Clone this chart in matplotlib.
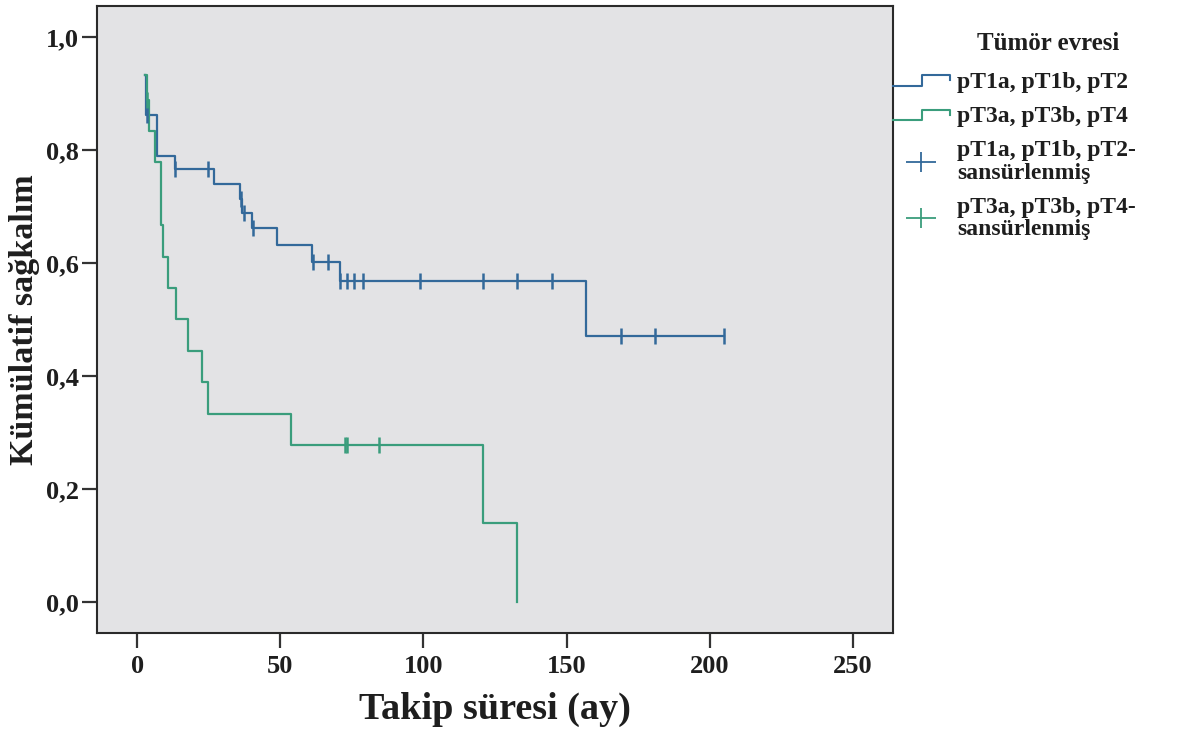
import matplotlib
matplotlib.use("Agg")
import matplotlib.pyplot as plt
from matplotlib.lines import Line2D
from matplotlib.legend_handler import HandlerBase
from matplotlib.path import Path
from matplotlib.markers import MarkerStyle

# ---- data ----
blue_times = [2.8, 3.1, 7.0, 13.3, 26.9, 35.8, 36.6, 40.0, 48.9, 61.1, 70.9, 156.8, 205.0]
blue_surv = [0.933, 0.862, 0.789, 0.766, 0.740, 0.714, 0.688, 0.662, 0.632, 0.602, 0.568, 0.471, 0.471]
blue_cens_t = [3.5, 13.3, 24.8, 36.3, 37.2, 40.5, 61.5, 66.7, 70.9, 73.3, 75.8, 78.9, 98.8, 120.8, 132.7, 144.9, 169.0, 180.9, 205.0]
blue_cens_s = [0.862, 0.766, 0.766, 0.714, 0.688, 0.662, 0.602, 0.602, 0.568, 0.568, 0.568, 0.568, 0.568, 0.568, 0.568, 0.568, 0.471, 0.471, 0.471]

green_times = [2.9, 3.3, 4.0, 6.3, 8.4, 9.1, 10.8, 13.6, 17.8, 22.7, 24.8, 53.8, 120.8, 132.7]
green_surv = [0.933, 0.889, 0.833, 0.778, 0.667, 0.611, 0.556, 0.500, 0.444, 0.389, 0.333, 0.278, 0.139, 0.0]
green_cens_t = [3.6, 72.6, 73.4, 84.5]
green_cens_s = [0.889, 0.278, 0.278, 0.278]

x_ticks = [0, 50, 100, 150, 200, 250]
y_ticks = [0.0, 0.2, 0.4, 0.6, 0.8, 1.0]
y_ticklabels = ["0,0", "0,2", "0,4", "0,6", "0,8", "1,0"]

legend_title = "Tümör evresi"
labels = ["pT1a, pT1b, pT2", "pT3a, pT3b, pT4",
          "pT1a, pT1b, pT2-\nsansürlenmiş", "pT3a, pT3b, pT4-\nsansürlenmiş"]
xlabel = "Takip süresi (ay)"
ylabel = "Kümülatif sağkalım"

BLUE = "#33699a"
GREEN = "#3a9d7c"
TXT = "#1e1e1e"
FONT = ["Liberation Serif", "DejaVu Serif"]

plt.rcParams["font.family"] = FONT
plt.rcParams["font.weight"] = "bold"

W, H = 1181, 735
fig = plt.figure(figsize=(W / 100, H / 100), dpi=100)
ax = fig.add_axes([97 / W, 1 - 633 / H, (893 - 97) / W, (633 - 6) / H])
ax.set_facecolor("#e3e3e5")

ax.step(blue_times, blue_surv, where="post", color=BLUE, lw=1.6)
ax.step(green_times, green_surv, where="post", color=GREEN, lw=1.6)
ax.plot(blue_cens_t, blue_cens_s, ls="none", marker="|", ms=11, mew=1.8, color=BLUE)
ax.plot(green_cens_t, green_cens_s, ls="none", marker="|", ms=11, mew=1.8, color=GREEN)

ax.set_xlim(-14.0, 264.0)
ax.set_ylim(-0.055, 1.055)
ax.set_xticks(x_ticks)
ax.set_yticks(y_ticks)
ax.set_yticklabels(y_ticklabels)
ax.tick_params(axis="both", direction="out", length=11, width=1.6, colors="#333333",
               labelsize=19, labelcolor=TXT, pad=2)
ax.tick_params(axis="x", pad=5)
for lab in ax.get_xticklabels() + ax.get_yticklabels():
    lab.set_fontweight("bold")
for sp in ax.spines.values():
    sp.set_color("#2a2a2a")
    sp.set_linewidth(1.5)

ax.set_xlabel(xlabel, fontsize=27.5, fontweight="bold", color=TXT, labelpad=10)
ax.set_ylabel(ylabel, fontsize=24.5, fontweight="bold", color=TXT, labelpad=4)


class StepHandler(HandlerBase):
    def create_artists(self, legend, orig_handle, xdescent, ydescent,
                       width, height, fontsize, trans):
        x0 = -xdescent
        y0 = -ydescent
        xs = [x0, x0 + 0.52 * width, x0 + 0.52 * width, x0 + width, x0 + width]
        ys = [y0 + 0.1 * height, y0 + 0.1 * height, y0 + 0.75 * height,
              y0 + 0.75 * height, y0 + 0.45 * height]
        ln = Line2D(xs, ys, color=orig_handle.get_color(),
                    lw=orig_handle.get_linewidth(), transform=trans)
        return [ln]


wide_plus = Path([(-1.5, 0), (1.5, 0), (0, -1), (0, 1)],
                 [Path.MOVETO, Path.LINETO, Path.MOVETO, Path.LINETO])

h1 = Line2D([], [], color=BLUE, lw=1.5)
h2 = Line2D([], [], color=GREEN, lw=1.5)
h3 = Line2D([], [], ls="none", marker=MarkerStyle(wide_plus), ms=22, mew=1.3, color=BLUE)
h4 = Line2D([], [], ls="none", marker=MarkerStyle(wide_plus), ms=22, mew=1.3, color=GREEN)

leg = ax.legend([h1, h2, h3, h4], labels,
                handler_map={h1: StepHandler(), h2: StepHandler()},
                loc="upper left", bbox_to_anchor=(893 / W, 1 - 71 / H),
                bbox_transform=fig.transFigure,
                frameon=False, fontsize=17,
                handlelength=2.4, handletextpad=0.3, labelspacing=0.55,
                borderaxespad=0.0, borderpad=0.0)
for t in leg.get_texts():
    t.set_fontweight("bold")
    t.set_color(TXT)
    t.set_linespacing(1.1)

fig.text(1048 / W, 1 - 43 / H, legend_title, ha="center", va="center",
         fontsize=18, fontweight="bold", color=TXT)

fig.savefig("out.png", dpi=100, facecolor="white")
